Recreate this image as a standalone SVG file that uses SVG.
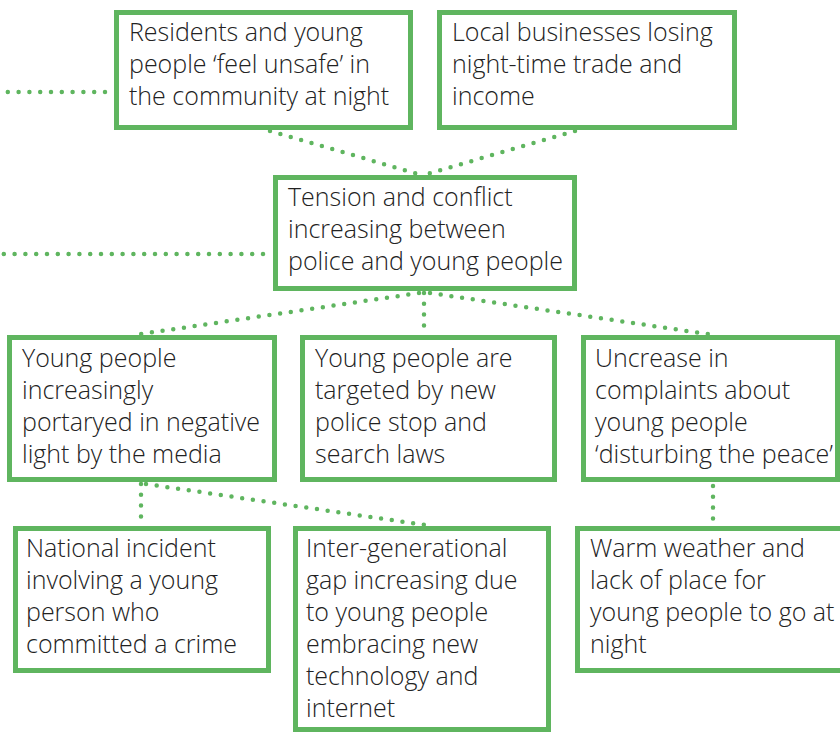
<svg xmlns="http://www.w3.org/2000/svg" width="840" height="732" viewBox="0 0 840 732">
  <style>
    .box { fill: #ffffff; stroke: #5fb55f; stroke-width: 5; }
    .lbl { font-family: "Open Sans", "Liberation Sans", sans-serif; font-weight: 300; font-size: 25px; fill: #222222; }
    .dot { fill: none; stroke: #5fb55f; stroke-width: 4.5; stroke-linecap: round; stroke-dasharray: 0 10.8; }
  </style>
  <rect width="840" height="732" fill="#ffffff"/>

  <g id="connectors">
    <line class="dot" x1="105" y1="92" x2="2" y2="92"/>
    <line class="dot" x1="263" y1="254" x2="-2" y2="254"/>
    <line class="dot" x1="270" y1="131" x2="418" y2="174"/>
    <line class="dot" x1="575" y1="131" x2="427" y2="174"/>
    <line class="dot" x1="419" y1="293" x2="134" y2="335"/>
    <line class="dot" x1="424" y1="293" x2="424" y2="332"/>
    <line class="dot" x1="430" y1="293" x2="714" y2="335"/>
    <line class="dot" x1="141" y1="484" x2="141" y2="522"/>
    <line class="dot" x1="146" y1="484" x2="425" y2="525"/>
    <line class="dot" x1="713" y1="486" x2="713" y2="523"/>
  </g>

  <g id="residents">
    <rect class="box" x="116.5" y="12.5" width="294" height="115"/>
    <text class="lbl" x="129" y="41">Residents and young</text>
    <text class="lbl" x="129" y="73">people ‘feel unsafe’ in</text>
    <text class="lbl" x="129" y="105">the community at night</text>
  </g>

  <g id="businesses">
    <rect class="box" x="439.5" y="12.5" width="295" height="115"/>
    <text class="lbl" x="452" y="41">Local businesses losing</text>
    <text class="lbl" x="452" y="73">night-time trade and</text>
    <text class="lbl" x="452" y="105">income</text>
  </g>

  <g id="tension">
    <rect class="box" x="275.5" y="177.5" width="299" height="111"/>
    <text class="lbl" x="288" y="206">Tension and conflict</text>
    <text class="lbl" x="288" y="238">increasing between</text>
    <text class="lbl" x="288" y="270">police and young people</text>
  </g>

  <g id="media">
    <rect class="box" x="9.5" y="337.5" width="265" height="142"/>
    <text class="lbl" x="22" y="367">Young people</text>
    <text class="lbl" x="22" y="399">increasingly</text>
    <text class="lbl" x="22" y="431">portaryed in negative</text>
    <text class="lbl" x="22" y="463">light by the media</text>
  </g>

  <g id="stop-search">
    <rect class="box" x="302.5" y="337.5" width="252" height="142"/>
    <text class="lbl" x="315" y="367">Young people are</text>
    <text class="lbl" x="315" y="399">targeted by new</text>
    <text class="lbl" x="315" y="431">police stop and</text>
    <text class="lbl" x="315" y="463">search laws</text>
  </g>

  <g id="complaints">
    <rect class="box" x="583.5" y="337.5" width="254" height="142"/>
    <text class="lbl" x="595" y="367">Uncrease in</text>
    <text class="lbl" x="595" y="399">complaints about</text>
    <text class="lbl" x="595" y="431">young people</text>
    <text class="lbl" x="595" y="463">‘disturbing the peace’</text>
  </g>

  <g id="incident">
    <rect class="box" x="15.5" y="528.5" width="253" height="142"/>
    <text class="lbl" x="26" y="557">National incident</text>
    <text class="lbl" x="26" y="589">involving a young</text>
    <text class="lbl" x="26" y="621">person who</text>
    <text class="lbl" x="26" y="653">committed a crime</text>
  </g>

  <g id="generational">
    <rect class="box" x="295.5" y="528.5" width="253" height="201"/>
    <text class="lbl" x="306" y="557">Inter-generational</text>
    <text class="lbl" x="306" y="589">gap increasing due</text>
    <text class="lbl" x="306" y="621">to young people</text>
    <text class="lbl" x="306" y="653">embracing new</text>
    <text class="lbl" x="306" y="685">technology and</text>
    <text class="lbl" x="306" y="717">internet</text>
  </g>

  <g id="weather">
    <rect class="box" x="577.5" y="528.5" width="280" height="142"/>
    <text class="lbl" x="590" y="557">Warm weather and</text>
    <text class="lbl" x="590" y="589">lack of place for</text>
    <text class="lbl" x="590" y="621">young people to go at</text>
    <text class="lbl" x="590" y="653">night</text>
  </g>
</svg>
